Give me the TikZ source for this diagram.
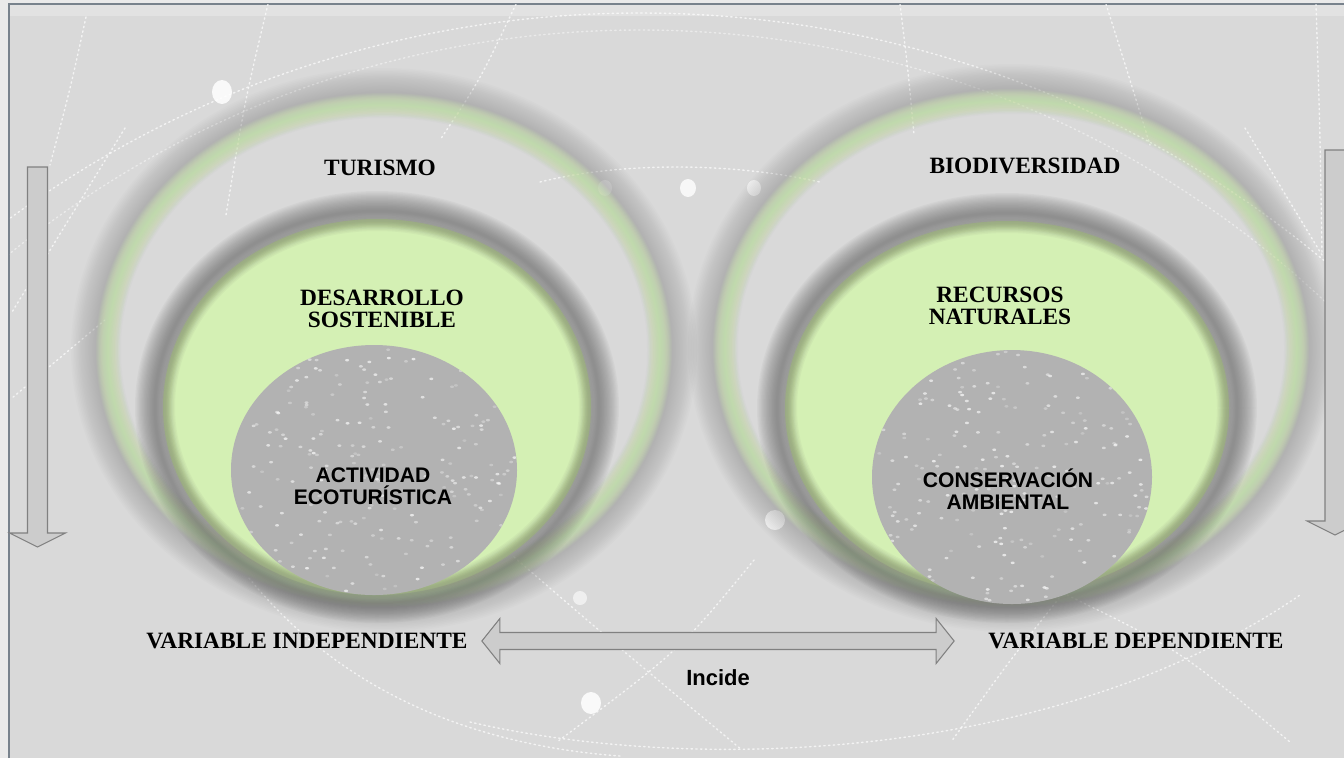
\documentclass[tikz,border=0pt]{standalone}
\usepackage{fontspec}
\setmainfont{Liberation Serif}
\setsansfont{Liberation Sans}
\usetikzlibrary{calc,positioning}
\definecolor{pagegray}{RGB}{234,234,234}
\definecolor{bggray}{RGB}{217,217,217}
\definecolor{framegray}{RGB}{120,130,140}
\definecolor{leafgreen}{RGB}{212,240,180}
\definecolor{rimgreen}{RGB}{160,205,115}
\definecolor{glowgreen}{RGB}{205,236,172}
\definecolor{shadegray}{RGB}{95,95,95}
\definecolor{stonegray}{RGB}{178,178,178}
\definecolor{arrowfill}{RGB}{204,204,204}
\definecolor{arrowedge}{RGB}{128,128,128}
% soft blurred ellipse band: [style](centre)(rx:ry:width in px)
\def\softring[#1](#2)(#3:#4:#5){\foreach \k in {1,...,16}{\pgfmathsetmacro\lw{#5*\k/16*0.569}\draw[#1, line width=\lw pt] (#2) ellipse ({#3} and {#4});}}
% white specks inside an ellipse: (cx,cy)(rx:ry)
\def\speckle(#1,#2)(#3:#4){\begin{scope}\clip (#1,#2) ellipse ({#3} and {#4});\foreach \i in {1,...,200}{\pgfmathsetmacro\sa{360*rnd}\pgfmathsetmacro\sr{sqrt(rnd)}\pgfmathsetmacro\so{0.2+0.5*rnd}\fill[white, opacity=\so] ({#1+\sr*#3*cos(\sa)},{#2+\sr*#4*sin(\sa)}) ellipse (2 and 1.3);}\end{scope}}

\begin{document}
\begin{tikzpicture}[x=0.2mm, y=-0.2mm,
	serifcap/.style={font=\bfseries\fontsize{13.3}{12.5}\selectfont, align=center, inner sep=0pt},
	sanscap/.style={font=\sffamily\bfseries\fontsize{12}{12.5}\selectfont, align=center, inner sep=0pt},
	dotline/.style={white, line width=0.8pt, dash pattern=on 0.8pt off 1.9pt, line cap=round, opacity=0.7},
	blockarrow/.style={fill=arrowfill, draw=arrowedge, line width=0.6pt, line join=miter}]
			%%%%% START %%%%%
			\useasboundingbox (0,0) rectangle (1344,758);
			\fill[pagegray] (0,0) rectangle (1344,758);
			\fill[bggray] (9,4) rectangle (1344,758);
			\fill[white, opacity=0.25] (9,4) rectangle (1344,16);
			\draw[framegray, line width=0.7pt] (9,758) -- (9,4) -- (1344,4);
			
			\begin{scope}
			\clip (9,4) rectangle (1344,758);
			
			% globe lines
			\draw[dotline] (640,1082) circle (1069);
			\draw[dotline, opacity=0.45] (640,1030) circle (1000);
			\draw[dotline] (268,4) .. controls (245,100) .. (226,215);
			\draw[dotline] (516,4) .. controls (480,80) .. (440,140);
			\draw[dotline] (900,4) .. controls (908,70) .. (914,135);
			\draw[dotline] (1106,4) .. controls (1130,80) .. (1150,145);
			\draw[dotline] (1316,4) .. controls (1320,130) .. (1322,255);
			\draw[dotline] (86,17) .. controls (70,90) .. (50,165);
			\draw[dotline] (540,182) .. controls (620,162) and (730,162) .. (820,182);
			\draw[dotline] (125,128) -- (12,312);
			\draw[dotline] (105,320) -- (12,398);
			\draw[dotline] (1245,128) -- (1322,255);
			\draw[dotline] (249,578) .. controls (340,690) and (470,745) .. (620,756);
			\draw[dotline] (470,722) .. controls (700,775) and (1060,760) .. (1300,595);
			\draw[dotline] (514,557) .. controls (610,640) .. (742,750);
			\draw[dotline] (754,560) .. controls (680,650) .. (557,742);
			\draw[dotline] (1063,593) .. controls (1180,650) .. (1290,742);
			\draw[dotline] (1071,583) .. controls (1010,660) .. (951,742);
			
			\fill[white, opacity=0.85] (222,92) ellipse (10 and 12);
			\fill[white, opacity=0.45] (605,188) ellipse (7 and 8);
			\fill[white, opacity=0.8] (688,188) ellipse (8 and 9);
			\fill[white, opacity=0.6] (754,188) ellipse (7 and 8);
			\fill[white, opacity=0.85] (775,520) ellipse (10 and 10);
			\fill[white, opacity=0.6] (580,598) ellipse (7 and 7);
			\fill[white, opacity=0.85] (591,703) ellipse (10 and 11);
			
			% left set
			\softring[shadegray, opacity=0.018](384,350)(288:257:50);
			\softring[glowgreen, opacity=0.07](384,350)(276:245:24);
			\fill[leafgreen] (377,407) ellipse (214 and 188);
			\softring[rimgreen, opacity=0.02](377,407)(211:185:12);
			\softring[shadegray, opacity=0.05](377,407)(222:196:40);
			\fill[stonegray] (374,470) ellipse (143 and 125);
			\pgfmathsetseed{11}
			\speckle(374,470)(143:125);
			
			% right set
			\softring[shadegray, opacity=0.018](1011,348)(298:259:50);
			\softring[glowgreen, opacity=0.07](1011,348)(286:247:24);
			\fill[leafgreen] (1007,408) ellipse (222 and 187);
			\softring[rimgreen, opacity=0.02](1007,408)(219:184:12);
			\softring[shadegray, opacity=0.05](1007,408)(230:195:40);
			\fill[stonegray] (1012,477) ellipse (140 and 127);
			\pgfmathsetseed{23}
			\speckle(1012,477)(140:127);
			\end{scope}
			
			% side arrows
			\draw[blockarrow] (27.5,167) -- (47.5,167) -- (47.5,533) -- (65.5,533) -- (37.5,547) -- (9.5,533) -- (27.5,533) -- cycle;
			\draw[blockarrow] (1325,150) -- (1345,150) -- (1345,521) -- (1363,521) -- (1335,535) -- (1307,521) -- (1325,521) -- cycle;
			
			% labels
			\node[serifcap] (turismo) at (380,168) {TURISMO};
			\node[serifcap] (biodiv) at (1025,166) {BIODIVERSIDAD};
			\node[serifcap] (desarrollo) at (382,309) {DESARROLLO\\SOSTENIBLE};
			\node[serifcap] (recursos) at (1000,306) {RECURSOS\\NATURALES};
			\node[sanscap] (actividad) at (373,486) {ACTIVIDAD\\ECOTURÍSTICA};
			\node[sanscap] (conservacion) at (1008,489) {CONSERVACIÓN\\AMBIENTAL};
			\node[serifcap] (vindep) at (307,641) {VARIABLE INDEPENDIENTE};
			\node[serifcap] (vdep) at (1136,641) {VARIABLE DEPENDIENTE};
			
			% link between the variables
			\path (vindep.east) ++(14,0) coordinate (ltip);
			\path (vdep.west) ++(-34,0) coordinate (rtip);
			\draw[blockarrow] (ltip) -- ++(18,-22.5) -- ++(0,14) -- ($(rtip)+(-18,-8.5)$) -- ++(0,-14) -- (rtip) -- ++(-18,22.5) -- ++(0,-14) -- ($(ltip)+(18,8.5)$) -- ++(0,14) -- cycle;
			\node[sanscap, font=\sffamily\bfseries\fontsize{12.5}{13}\selectfont] (incide) at ($(ltip)!0.5!(rtip)+(0,37)$) {Incide};
			%%%%% END %%%%%
\end{tikzpicture}
\end{document}
